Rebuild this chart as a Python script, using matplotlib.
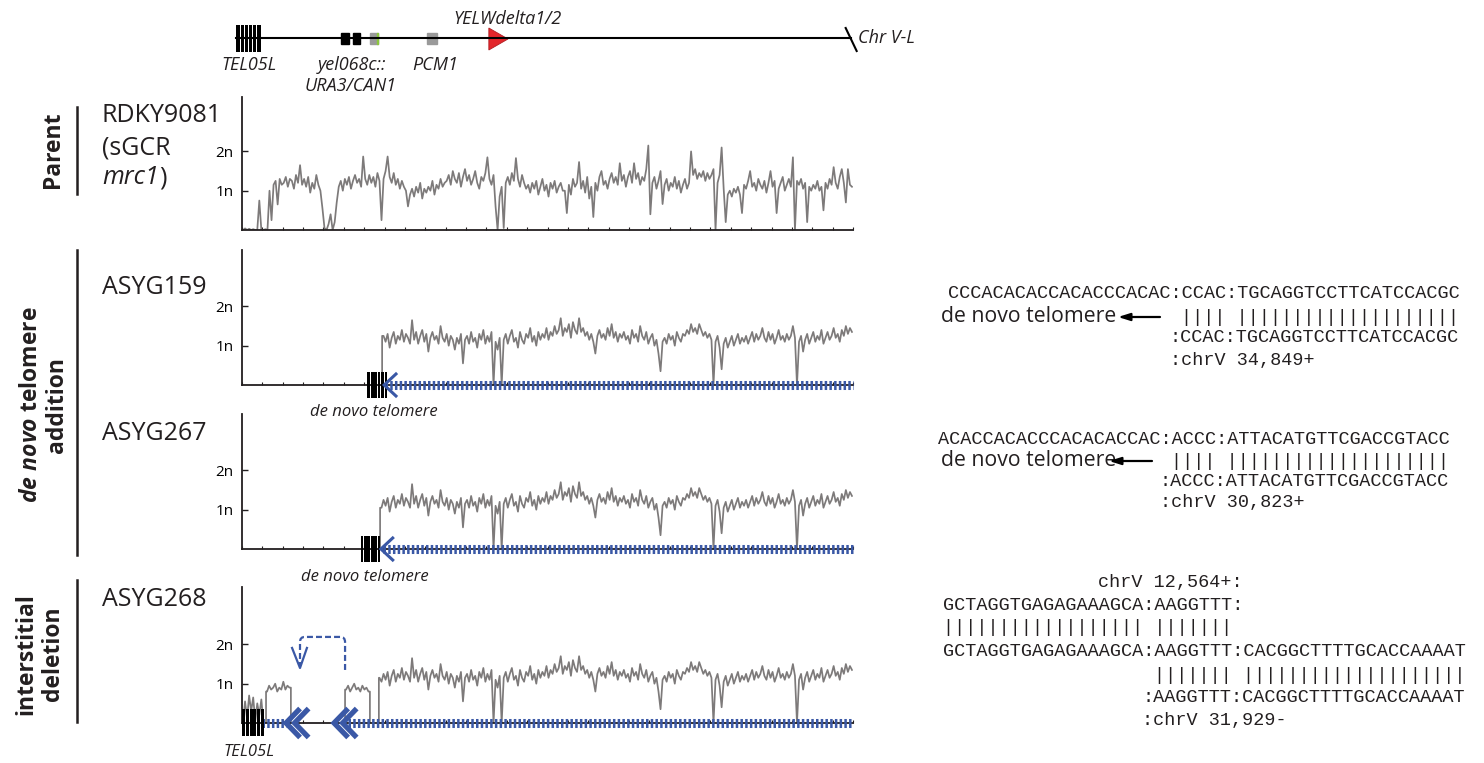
import numpy as np
import matplotlib.pyplot as plt
from matplotlib.path import Path
from matplotlib.patches import PathPatch, Polygon, Rectangle

plt.rcParams['font.family'] = ['Open Sans', 'DejaVu Sans']
plt.rcParams['mathtext.fontset'] = 'custom'
plt.rcParams['mathtext.rm'] = 'Open Sans'
plt.rcParams['mathtext.it'] = 'Open Sans:italic'
plt.rcParams['mathtext.bf'] = 'Open Sans:bold'
plt.rcParams['mathtext.bfit'] = 'Open Sans:italic:bold'
plt.rcParams['lines.scale_dashes'] = False

# ---- copy number (in n) along chrV-L, 0.5 kb bins ----
BIN = 0.5
parent_cov = [
    0.00, 0.04, 0.00, 0.03, 0.00, 0.02, 0.00, 0.00, 0.75, 0.00, 0.00, 0.02, 0.00, 1.00, 0.25, 1.15, 1.25, 0.65, 1.30, 1.15,
    1.20, 1.35, 1.10, 1.30, 1.25, 1.05, 1.40, 1.20, 1.65, 1.15, 1.30, 1.10, 1.35, 0.95, 1.20, 1.05, 1.40, 1.15, 1.00, 0.55,
    0.05, 0.00, 0.15, 0.40, 0.00, 0.20, 0.70, 1.10, 1.25, 1.00, 1.30, 1.15, 1.35, 1.05, 1.25, 1.40, 1.20, 1.30, 1.10, 1.87,
    1.30, 1.15, 1.40, 1.20, 1.35, 1.10, 1.45, 1.25, 0.25, 1.30, 1.50, 1.87, 1.35, 1.20, 1.45, 1.15, 1.30, 1.05, 1.25, 1.10,
    1.00, 0.60, 0.90, 1.05, 0.85, 1.10, 0.95, 1.20, 0.80, 1.05, 0.95, 1.10, 1.00, 1.25, 0.90, 1.15, 1.05, 1.30, 1.10, 1.20,
    1.25, 1.40, 1.15, 1.50, 1.30, 1.20, 1.45, 1.10, 1.35, 1.55, 1.25, 1.40, 1.15, 1.30, 1.50, 1.20, 1.05, 1.35, 1.25, 1.45,
    1.85, 1.30, 1.15, 1.40, 0.60, 0.00, 0.85, 1.10, 0.05, 1.20, 1.35, 1.15, 1.45, 1.25, 1.83, 1.30, 1.10, 1.40, 1.20, 1.05,
    1.15, 0.95, 1.20, 1.05, 1.25, 0.90, 1.10, 1.30, 1.00, 1.15, 0.85, 1.20, 1.05, 1.25, 0.95, 1.10, 1.20, 1.00, 1.00, 0.43,
    1.15, 0.90, 1.30, 1.10, 1.20, 1.73, 1.05, 1.25, 0.95, 1.35, 0.80, 1.10, 0.33, 1.20, 1.00, 1.35, 1.50, 1.15, 1.25, 1.05,
    1.30, 1.45, 1.20, 1.35, 1.15, 1.70, 1.25, 1.40, 1.10, 1.35, 1.50, 1.20, 1.70, 1.30, 1.45, 1.15, 1.35, 1.25, 1.55, 2.15,
    0.40, 1.20, 1.35, 1.05, 1.25, 1.50, 0.66, 1.15, 1.30, 1.00, 1.20, 1.10, 1.35, 1.05, 1.25, 0.95, 1.15, 1.30, 1.05, 1.20,
    2.00, 1.40, 1.55, 1.30, 1.45, 1.35, 1.50, 1.25, 1.45, 1.30, 1.40, 1.55, 0.00, 1.20, 1.40, 2.10, 1.05, 0.20, 0.90, 1.00,
    0.85, 1.05, 0.95, 1.10, 0.90, 0.43, 1.15, 1.05, 1.25, 1.50, 1.10, 1.20, 1.00, 1.30, 1.15, 1.05, 1.25, 0.95, 1.20, 1.50,
    1.10, 1.25, 0.43, 1.05, 1.20, 1.35, 1.00, 1.15, 1.30, 1.10, 1.85, 0.00, 1.25, 1.15, 1.30, 1.05, 1.20, 0.20, 1.10, 1.00,
    1.15, 1.05, 1.25, 1.00, 1.10, 0.50, 1.20, 1.05, 1.30, 1.15, 1.60, 1.20, 1.05, 1.35, 1.55, 1.20, 0.70, 1.55, 1.15, 1.10,
]

# retained part of chrV-L in the GCR clones, from 33.5 kb to the end
clone_start = 33.5
clone_cov = [
    1.15, 1.05, 1.25, 1.10, 1.30, 0.95, 1.20, 1.35, 1.05, 1.25, 1.15, 1.40, 1.10, 1.30, 1.20, 1.05, 1.65, 1.15, 1.35, 1.05,
    1.25, 1.40, 1.10, 1.30, 0.85, 1.20, 1.35, 1.15, 1.25, 1.05, 1.50, 1.20, 1.10, 1.30, 1.00, 1.25, 1.15, 0.90, 1.20, 1.05,
    1.30, 0.55, 1.15, 1.25, 1.05, 1.35, 1.10, 1.20, 0.95, 1.30, 1.15, 1.40, 1.05, 1.25, 1.10, 1.35, 0.00, 1.10, 0.90, 1.20,
    0.00, 1.15, 1.30, 1.05, 1.25, 1.40, 1.10, 1.20, 0.95, 1.35, 1.15, 1.05, 1.30, 1.20, 1.45, 1.10, 1.25, 1.00, 1.35, 1.15,
    1.30, 1.20, 1.45, 1.15, 1.35, 1.25, 1.50, 1.30, 1.40, 1.70, 1.25, 1.45, 1.35, 1.55, 1.20, 1.60, 1.40, 1.30, 1.70, 1.35,
    1.45, 1.25, 1.35, 1.15, 1.30, 1.10, 0.80, 1.25, 1.40, 1.20, 1.30, 1.15, 1.45, 1.25, 1.55, 1.20, 1.35, 1.10, 1.30, 1.20,
    1.35, 1.15, 1.25, 1.05, 1.40, 1.20, 1.30, 1.10, 1.50, 1.25, 1.15, 1.35, 1.05, 1.20, 1.30, 1.00, 1.15, 0.80, 0.35, 1.10,
    1.20, 1.05, 1.30, 1.15, 1.25, 1.00, 1.35, 1.20, 1.10, 1.30, 1.25, 1.40, 1.30, 1.55, 1.35, 1.45, 1.30, 1.55, 1.40, 1.25,
    1.35, 1.20, 1.30, 1.15, 0.00, 1.10, 1.25, 0.95, 0.40, 1.05, 1.20, 0.95, 1.10, 1.25, 1.00, 1.15, 1.30, 1.05, 1.20, 1.10,
    1.25, 1.05, 1.20, 1.35, 1.10, 1.30, 1.15, 1.25, 1.45, 1.20, 1.10, 1.35, 1.15, 1.30, 1.05, 1.20, 1.40, 1.15, 1.25, 1.10,
    1.30, 1.15, 1.25, 1.50, 1.20, 0.00, 1.10, 1.25, 0.85, 1.15, 1.30, 1.05, 1.20, 1.35, 1.10, 1.25, 1.15, 1.40, 1.05, 1.20,
    1.35, 1.15, 1.25, 1.45, 1.20, 1.30, 1.10, 1.40, 1.25, 1.50, 1.30, 1.45, 1.35,
]

# ASYG268 keeps two short pieces of the left end
asyg268_tel = [0.00, 0.55, 0.10, 0.70, 0.30, 0.65, 0.05, 0.50, 0.20, 0.60, 0.00]
asyg268_frag1 = [0.80, 0.95, 0.85, 0.90, 1.00, 0.80, 0.90, 0.85, 1.05, 0.85, 0.95, 0.90]
asyg268_frag2 = [0.85, 0.95, 0.80, 0.90, 1.00, 0.85, 0.90, 0.80, 0.95, 0.85, 0.90, 0.80]
tel_span, frag1_span, frag2_span = (0.0, 5.5), (5.9, 12.0), (25.3, 31.4)

# breakpoints (kb)
asyg159_start = 34.4
asyg267_start = 33.9
asyg268_start = 33.6

# chromosome map features (kb)
tel05l = (-1.5, 4.7)
yel068c = [(24.3, 26.2), (27.3, 29.0)]
ura3_can1 = (31.4, 33.4)
pcm1 = (45.4, 47.9)
yelwdelta = (60.6, 65.3)
chr_end = 149.5
CHR_KB = 150

GREY = '#7d7a7a'
BLUE = '#3a58a6'
INK = '#231f20'
W, H = 1484, 763
PX_PER_N = 39.3

fig = plt.figure(figsize=(W / 100, H / 100), dpi=100)


def px_axes(x0, top, x1, bottom):
    return fig.add_axes([x0 / W, 1 - bottom / H, (x1 - x0) / W, (bottom - top) / H])


def make_panel(top, bottom):
    ax = px_axes(242, top, 853, bottom)
    ax.set_xlim(0, CHR_KB)
    ax.set_ylim(0, (bottom - top) / PX_PER_N)
    for s in ('top', 'right'):
        ax.spines[s].set_visible(False)
    for s in ('left', 'bottom'):
        ax.spines[s].set_linewidth(1.3)
        ax.spines[s].set_color(INK)
    ax.set_xticks(np.arange(0, CHR_KB + 1, 5))
    ax.set_xticklabels([])
    ax.set_yticks([1, 2], ['1n', '2n'])
    ax.tick_params(axis='x', direction='in', length=2.5, width=0.8, color=INK)
    ax.tick_params(axis='y', direction='in', length=4, width=1, pad=6, labelsize=11, color=INK)
    ax.patch.set_visible(False)
    return ax


def segment(start, end, vals):
    xk = start + BIN * (np.arange(len(vals)) + 0.5)
    x = np.r_[start, start, xk, end, end]
    y = np.r_[0, vals[0], vals, vals[-1], 0]
    return x, y


def clone_trace(start):
    cov = np.array(clone_cov)
    xk = clone_start + BIN * (np.arange(len(cov)) + 0.5)
    keep = xk >= start
    return np.r_[start, start, xk[keep]], np.r_[0, cov[keep][0], cov[keep]]


def telomere(ax, x0, x1, y0, y1, n=6):
    w = (x1 - x0) / n
    ax.bar(x0 + w * (np.arange(n) + 0.5), y1 - y0, width=w * 0.75, bottom=y0,
           color='k', clip_on=False, zorder=5)


def blue_track(ax, x0, x1):
    ax.plot([x0, x1], [0, 0], color=BLUE, lw=6.5, dashes=(1.8, 1.6),
            clip_on=False, zorder=4)


def open_chevron(ax, tip):
    ax.plot([tip + 2.9, tip, tip + 2.9], [0.28, 0, -0.28], color=BLUE, lw=2.2,
            solid_joinstyle='miter', clip_on=False, zorder=6)


def double_chevron(ax, tip):
    for dx in (0, 2.1):
        ax.plot([tip + dx + 3.0, tip + dx, tip + dx + 3.0], [0.32, 0, -0.32], color=BLUE,
                lw=3.8, solid_joinstyle='miter', clip_on=False, zorder=6)


TRACE = dict(color=GREY, lw=1.25)

# parent
ax_p = make_panel(97, 230)
ax_p.plot(BIN * (np.arange(len(parent_cov)) + 0.5), parent_cov, **TRACE)

# ASYG159
ax_a = make_panel(250, 385)
ax_a.plot(*clone_trace(asyg159_start), **TRACE)
telomere(ax_a, 30.7, 35.8, -0.33, 0.33)
blue_track(ax_a, asyg159_start + 0.8, CHR_KB)
open_chevron(ax_a, asyg159_start + 0.5)

# ASYG267
ax_b = make_panel(414, 549)
ax_b.plot(*clone_trace(asyg267_start), **TRACE)
telomere(ax_b, 29.0, 34.1, -0.33, 0.33)
blue_track(ax_b, asyg267_start + 0.6, CHR_KB)
open_chevron(ax_b, asyg267_start + 0.2)

# ASYG268
ax_c = make_panel(587, 723)
for span, vals in ((tel_span, asyg268_tel), (frag1_span, asyg268_frag1), (frag2_span, asyg268_frag2)):
    ax_c.plot(*segment(span[0], span[1], vals), **TRACE)
ax_c.plot(*clone_trace(asyg268_start), **TRACE)
telomere(ax_c, 0.0, 5.4, -0.33, 0.36)
blue_track(ax_c, 4.9, 10.8)
blue_track(ax_c, 26.0, CHR_KB)
double_chevron(ax_c, 10.8)
double_chevron(ax_c, 22.6)

# dashed arc showing the junction between the two retained pieces
xr, xl, ytop, r = 25.3, 14.24, 2.19, 1.2
verts = [(xr, 1.35), (xr, ytop - 0.13), (xr, ytop), (xr - r, ytop), (xl + r, ytop),
         (xl, ytop), (xl, ytop - 0.13), (xl, 1.45)]
codes = [Path.MOVETO, Path.LINETO, Path.CURVE3, Path.CURVE3, Path.LINETO,
         Path.CURVE3, Path.CURVE3, Path.LINETO]
ax_c.add_patch(PathPatch(Path(verts, codes), fill=False, ec=BLUE, lw=1.6,
                         ls=(0, (4.3, 2.2)), zorder=6))
ax_c.plot([xl - 1.95, xl, xl + 1.7], [1.91, 1.40, 1.91], color=BLUE, lw=1.6, zorder=6)

# chromosome map
ax_m = px_axes(242, 0, 853, 95)
ax_m.set_xlim(0, CHR_KB)
ax_m.set_ylim(95, 0)
ax_m.axis('off')
ax_m.plot([tel05l[0], chr_end], [38, 38], color='k', lw=1.5, clip_on=False)
ax_m.plot([chr_end - 1.3, chr_end + 1.4], [28, 51], color='k', lw=1.5, clip_on=False)
w = (tel05l[1] - tel05l[0]) / 6
ax_m.bar(tel05l[0] + w * (np.arange(6) + 0.5), 27, width=w * 0.75, bottom=25,
         color='k', clip_on=False)
for a, b in yel068c:
    ax_m.add_patch(Rectangle((a, 33), b - a, 11, color='k', clip_on=False))
ax_m.add_patch(Rectangle((ura3_can1[0], 33), ura3_can1[1] - ura3_can1[0], 11, color='#9a9a9a', clip_on=False))
ax_m.add_patch(Rectangle((ura3_can1[1] - 0.35, 33), 0.35, 11, color='#8cc63f', clip_on=False))
ax_m.add_patch(Rectangle((pcm1[0], 33), pcm1[1] - pcm1[0], 11, color='#9a9a9a', clip_on=False))
ax_m.add_patch(Polygon([(yelwdelta[0], 28), (yelwdelta[0], 50), (yelwdelta[1], 39)],
                       closed=True, fc='#e3262b', ec='#b01e23', lw=0.6, clip_on=False))

# text overlay in pixel units
ov = fig.add_axes([0, 0, 1, 1])
ov.set_xlim(0, W)
ov.set_ylim(H, 0)
ov.axis('off')

it = dict(style='italic', fontsize=13, color=INK, ha='center', va='center')
ov.text(249, 65, 'TEL05L', **it)
ov.text(352, 65, 'yel068c::', **it)
ov.text(351, 86, 'URA3/CAN1', **it)
ov.text(435, 65, 'PCM1', **it)
ov.text(507, 19, 'YELWdelta1/2', **it)
ov.text(858, 38, 'Chr V-L', **dict(it, ha='left'))
ov.text(374, 412, 'de novo telomere', **dict(it, fontsize=12))
ov.text(365, 577, 'de novo telomere', **dict(it, fontsize=12))
ov.text(249, 752, 'TEL05L', **dict(it, fontsize=12))

lab = dict(fontsize=18, color=INK, ha='left', va='center')
ov.text(102, 115, 'RDKY9081', **lab)
ov.text(102, 148, '(sGCR', **lab)
mrc = ov.text(102, 178, 'mrc1', style='italic', **lab)
ov.annotate(')', xy=(1, 0.5), xycoords=mrc, fontsize=18, color=INK, ha='left', va='center')
ov.text(102, 287, 'ASYG159', **lab)
ov.text(102, 433, 'ASYG267', **lab)
ov.text(102, 600, 'ASYG268', **lab)

grp = dict(fontsize=16.5, fontweight='bold', color=INK, rotation=90,
           ha='center', va='center', multialignment='center', linespacing=1.15)
ov.text(53, 150, 'Parent', **grp)
ov.text(44, 405, '$\\mathbfit{de\\ novo}$ telomere\naddition', **grp)
ov.text(40, 654, 'interstitial\ndeletion', **grp)
for y0, y1 in ((107, 194), (250, 555), (580, 722)):
    ov.plot([77, 77], [y0, y1], color=INK, lw=1.8)

# junction sequences; leading blanks become an x offset of whole characters
MONO_PT = 13.3
CHAR_W = 0.6 * MONO_PT * 100 / 72
mono = dict(family='Liberation Mono', fontsize=MONO_PT, color=INK, ha='left', va='center')


def seq_line(x0, y, s):
    pad = len(s) - len(s.lstrip(' '))
    ov.text(x0 + pad * CHAR_W, y, s.lstrip(' '), **mono)


seq1 = ['CCCACACACCACACCCACAC:CCAC:TGCAGGTCCTTCATCCACGC',
        ' ' * 21 + '||||' + ' ' + '|' * 20,
        ' ' * 20 + ':CCAC:TGCAGGTCCTTCATCCACGC',
        ' ' * 20 + ':chrV 34,849+']
for s, y in zip(seq1, (293, 317, 338, 360)):
    seq_line(948, y, s)
seq2 = ['ACACCACACCCACACACCAC:ACCC:ATTACATGTTCGACCGTACC',
        ' ' * 21 + '||||' + ' ' + '|' * 20,
        ' ' * 20 + ':ACCC:ATTACATGTTCGACCGTACC',
        ' ' * 20 + ':chrV 30,823+']
for s, y in zip(seq2, (440, 461, 482, 503)):
    seq_line(938, y, s)
seq3 = [' ' * 14 + 'chrV 12,564+:',
        'GCTAGGTGAGAGAAAGCA:AAGGTTT:',
        '|' * 18 + ' ' + '|' * 7,
        'GCTAGGTGAGAGAAAGCA:AAGGTTT:CACGGCTTTTGCACCAAAAT',
        ' ' * 19 + '|' * 7 + ' ' + '|' * 20,
        ' ' * 18 + ':AAGGTTT:CACGGCTTTTGCACCAAAAT',
        ' ' * 18 + ':chrV 31,929-']
for s, y in zip(seq3, (582, 605, 628, 651, 675, 698, 720)):
    seq_line(943, y, s)

for (x_head, x_tail, y) in ((1118, 1160, 317), (1109, 1152, 461)):
    ov.text(941, y, 'de novo telomere', fontsize=15.3, color=INK, ha='left', va='center')
    ov.annotate('', xy=(x_head, y), xytext=(x_tail, y),
                arrowprops=dict(arrowstyle='-|>,head_length=0.7,head_width=0.22',
                                color='k', lw=1.6, shrinkA=0, shrinkB=0))

fig.savefig('out.png', dpi=100)
